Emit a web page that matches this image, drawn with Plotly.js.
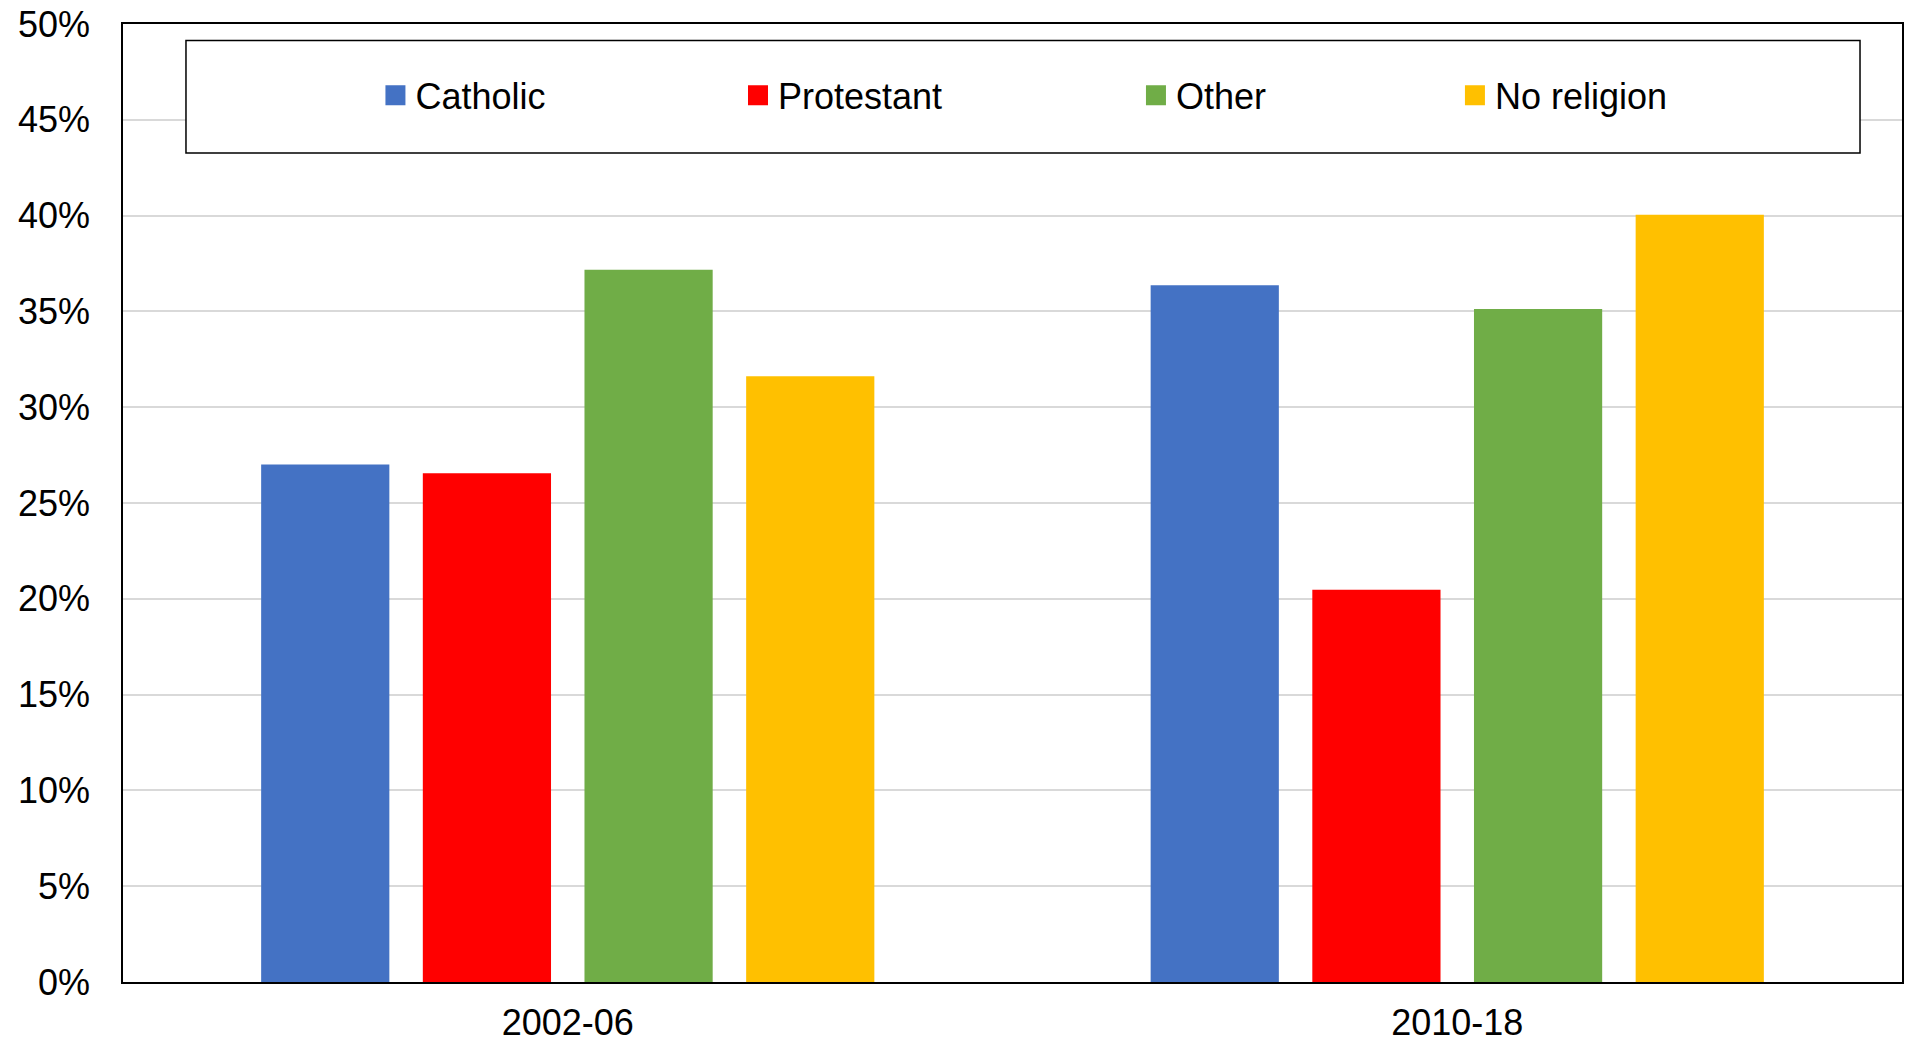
<!DOCTYPE html>
<html>
<head>
<meta charset="utf-8">
<script src="https://cdn.plot.ly/plotly-3.0.1.min.js"></script>
<style>
html,body{margin:0;padding:0;background:#fff;}
#chart{width:1906px;height:1044px;}
</style>
</head>
<body>
<div id="chart"></div>
<script>
const periods = ["2002-06", "2010-18"];
const seriesNames = ["Catholic", "Protestant", "Other", "No religion"];
const catholic = [0.2701, 0.3637];
const protestant = [0.2655, 0.2047];
const other = [0.3718, 0.3513];
const noReligion = [0.3162, 0.4005];
const colors = ["#4472C4", "#FF0000", "#70AD47", "#FFC000"];
const yTickVals = [0, 0.05, 0.10, 0.15, 0.20, 0.25, 0.30, 0.35, 0.40, 0.45, 0.50];

const values = [catholic, protestant, other, noReligion];
const legendIds = ["legend", "legend2", "legend3", "legend4"];
const legendX = [0.1419, 0.3457, 0.5694, 0.7487];

const FONT = "Liberation Sans, Arial, sans-serif";

const traces = [];
values.forEach((v, i) => {
  traces.push({
    type: "bar",
    name: seriesNames[i],
    x: periods,
    y: v,
    marker: {color: colors[i]},
    showlegend: false,
    hovertemplate: "%{x}: %{y:.1%}<extra>" + seriesNames[i] + "</extra>"
  });
});
// legend keys (square swatches)
values.forEach((v, i) => {
  traces.push({
    type: "scatter",
    mode: "markers",
    name: seriesNames[i],
    x: [null],
    y: [null],
    marker: {symbol: "square", size: 16, color: colors[i], line: {color: colors[i], width: 4}},
    showlegend: true,
    legend: legendIds[i],
    hoverinfo: "skip"
  });
});

const layout = {
  width: 1906,
  height: 1044,
  margin: {l: 123, r: 4, t: 24, b: 62, pad: 0},
  paper_bgcolor: "#ffffff",
  plot_bgcolor: "#ffffff",
  font: {family: FONT, size: 36, color: "#000000"},
  barmode: "group",
  bargap: 0.273,
  bargroupgap: 0.207,
  xaxis: {
    type: "category",
    showline: true,
    linecolor: "#000000",
    linewidth: 2,
    mirror: true,
    ticks: "",
    showgrid: false,
    tickfont: {family: FONT, size: 36, color: "#000000"},
    ticklabelstandoff: 8,
    fixedrange: true
  },
  yaxis: {
    range: [0, 0.5],
    tickvals: yTickVals,
    tickformat: ".0%",
    showline: true,
    linecolor: "#000000",
    linewidth: 1.5,
    mirror: true,
    ticks: "",
    showgrid: true,
    gridcolor: "#d9d9d9",
    gridwidth: 1.5,
    zeroline: false,
    tickfont: {family: FONT, size: 36, color: "#000000"},
    ticklabelstandoff: 24,
    fixedrange: true
  },
  shapes: [{
    type: "rect",
    xref: "paper", yref: "paper",
    x0: 0.0354, x1: 0.9764, y0: 0.8653, y1: 0.9828,
    line: {color: "#000000", width: 1.5},
    fillcolor: "#ffffff",
    layer: "above"
  }]
};

legendIds.forEach((id, i) => {
  layout[id] = {
    orientation: "h",
    x: legendX[i],
    xanchor: "left",
    y: 0.9255,
    yanchor: "middle",
    bgcolor: "rgba(0,0,0,0)",
    borderwidth: 0,
    font: {family: FONT, size: 36, color: "#000000"}
  };
});

Plotly.newPlot("chart", traces, layout, {displayModeBar: false, responsive: false});
</script>
</body>
</html>
